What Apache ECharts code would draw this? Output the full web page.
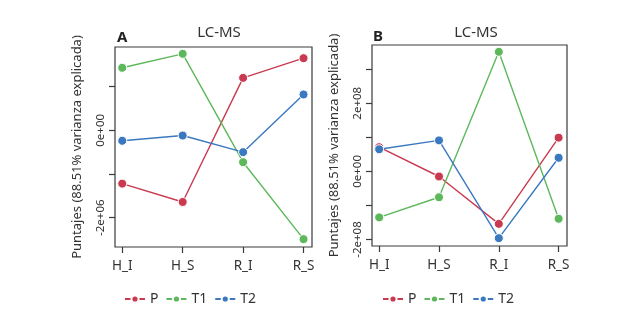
<!DOCTYPE html>
<html>
<head>
<meta charset="utf-8">
<script src="https://cdn.jsdelivr.net/npm/echarts@6/dist/echarts.min.js"></script>
<style>
  html, body { margin: 0; padding: 0; background: #fff; }
  #chart { width: 639px; height: 310px; }
</style>
</head>
<body>
<div id="chart"></div>
<script>
// muestras en el eje x
const categories = ["H_I", "H_S", "R_I", "R_S"];
const seriesNames = ["P", "T1", "T2"];

// panel A (escala 1e6)
const panelA_P = [-1.22e6, -1.64e6, 1.2e6, 1.65e6];
const panelA_T1 = [1.43e6, 1.75e6, -0.73e6, -2.49e6];
const panelA_T2 = [-0.24e6, -0.12e6, -0.5e6, 0.82e6];

// panel B (escala 1e8)
const panelB_P = [0.71e8, -0.15e8, -1.54e8, 0.99e8];
const panelB_T1 = [-1.35e8, -0.76e8, 3.51e8, -1.39e8];
const panelB_T2 = [0.65e8, 0.91e8, -1.96e8, 0.4e8];

// ticks y etiquetas
const ticksA = [-2e6, -1e6, 0, 1e6];
const labelsA = [-2e6, 0];
const ticksB = [-2e8, -1e8, 0, 1e8, 2e8, 3e8];
const labelsB = [-2e8, 0, 2e8];

const colors = ["#c93a50", "#5db85b", "#3a78c0"];
const font = "Noto Sans";
const axisColor = "#3a3a3a";

function sci(v) {
  if (v === 0) return "0e+00";
  const e = Math.floor(Math.log10(Math.abs(v)));
  const m = Math.round(v / Math.pow(10, e));
  return m + "e+" + String(e).padStart(2, "0");
}

const chart = echarts.init(document.getElementById("chart"));

function xAxisFor(gridIndex) {
  return {
    gridIndex: gridIndex,
    type: "value",
    min: -0.12,
    max: 3.14,
    splitLine: { show: false },
    axisLine: { show: false, onZero: false },
    axisTick: {
      show: true,
      length: 6,
      customValues: [0, 1, 2, 3],
      lineStyle: { color: axisColor, width: 1.2 },
    },
    axisLabel: {
      customValues: [0, 1, 2, 3],
      formatter: (v) => categories[Math.round(v)],
      color: "#333",
      fontFamily: font,
      fontSize: 13.5,
      margin: 12,
    },
  };
}

function yAxisFor(gridIndex, min, max, ticks, labels) {
  return {
    gridIndex: gridIndex,
    type: "value",
    min: min,
    max: max,
    name: "Puntajes (88.51% varianza explicada)",
    nameLocation: "middle",
    nameGap: 31,
    nameTextStyle: { color: "#333", fontFamily: font, fontSize: 13 },
    splitLine: { show: false },
    axisLine: { show: false, onZero: false },
    axisTick: {
      show: true,
      length: 6,
      customValues: ticks,
      lineStyle: { color: axisColor, width: 1.2 },
    },
    axisLabel: {
      customValues: labels,
      formatter: sci,
      rotate: 90,
      color: "#333",
      fontFamily: font,
      fontSize: 11.5,
      margin: 8,
    },
  };
}

function lineSeries(name, values, idx, axisIndex) {
  return {
    name: name,
    type: "line",
    xAxisIndex: axisIndex,
    yAxisIndex: axisIndex,
    data: values.map((v, i) => [i, v]),
    symbol: "circle",
    symbolSize: 9,
    color: colors[idx],
    lineStyle: { width: 1.4, color: colors[idx] },
    itemStyle: { color: colors[idx], borderColor: "#fff", borderWidth: 1 },
    animation: false,
  };
}

const option = {
  backgroundColor: "#fff",
  textStyle: { fontFamily: font },
  title: [
    { text: "LC-MS", left: 214, top: 20, textAlign: "center",
      textStyle: { fontSize: 15, fontWeight: "normal", color: "#333", fontFamily: font } },
    { text: "LC-MS", left: 471, top: 20, textAlign: "center",
      textStyle: { fontSize: 15, fontWeight: "normal", color: "#333", fontFamily: font } },
    { text: "A", left: 112, top: 25,
      textStyle: { fontSize: 15, fontWeight: "bold", color: "#222", fontFamily: font } },
    { text: "B", left: 368, top: 24,
      textStyle: { fontSize: 15, fontWeight: "bold", color: "#222", fontFamily: font } },
  ],
  grid: [
    { left: 115, top: 47, width: 197, height: 200, show: true,
      borderColor: axisColor, borderWidth: 1.2 },
    { left: 372, top: 45, width: 195, height: 201, show: true,
      borderColor: axisColor, borderWidth: 1.2 },
  ],
  xAxis: [xAxisFor(0), xAxisFor(1)],
  yAxis: [
    yAxisFor(0, -2.67e6, 1.906e6, ticksA, labelsA),
    yAxisFor(1, -2.19e8, 3.71e8, ticksB, labelsB),
  ],
  legend: [
    { data: seriesNames, left: 119, top: 287, itemWidth: 20, itemHeight: 9,
      itemGap: 7, textStyle: { fontSize: 14, color: "#333", fontFamily: font } },
    { data: seriesNames, left: 377, top: 287, itemWidth: 20, itemHeight: 9,
      itemGap: 7, textStyle: { fontSize: 14, color: "#333", fontFamily: font } },
  ],
  series: [
    lineSeries("P", panelA_P, 0, 0),
    lineSeries("T1", panelA_T1, 1, 0),
    lineSeries("T2", panelA_T2, 2, 0),
    lineSeries("P", panelB_P, 0, 1),
    lineSeries("T1", panelB_T1, 1, 1),
    lineSeries("T2", panelB_T2, 2, 1),
  ],
};

chart.setOption(option);
</script>
</body>
</html>
